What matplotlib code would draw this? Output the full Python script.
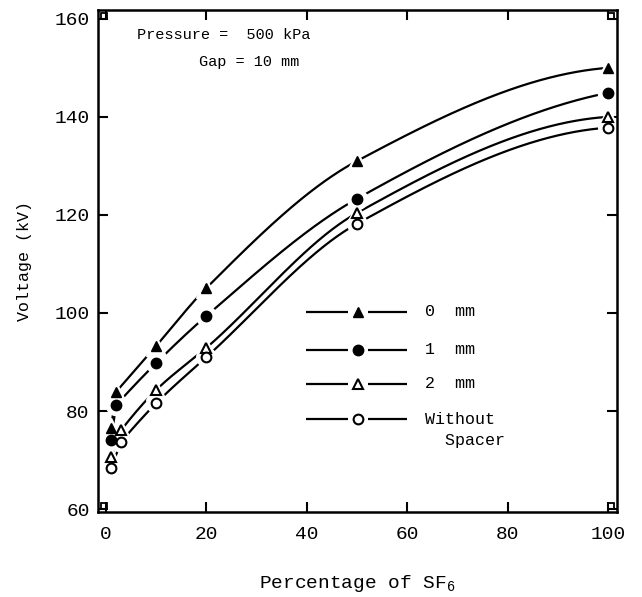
import numpy as np
import matplotlib
matplotlib.use("Agg")
import matplotlib.pyplot as plt

plt.rcParams['font.family'] = ['Liberation Mono', 'DejaVu Sans']
plt.rcParams['mathtext.default'] = 'regular'

# ---- data ----
x_filled = [1, 2, 10, 20, 50, 100]
x_open = [1, 3, 10, 20, 50, 100]
v_0mm = [76.5, 83.9, 93.3, 105.1, 131.0, 150.0]
v_1mm = [74.1, 81.2, 89.8, 99.4, 123.3, 144.9]
v_2mm = [70.6, 76.1, 84.3, 92.9, 120.4, 140.0]
v_none = [68.4, 73.7, 81.6, 91.0, 118.2, 137.8]
labels = ["0  mm", "1  mm", "2  mm", "Without"]
x_ticks = [0, 20, 40, 60, 80, 100]
y_ticks = [60, 80, 100, 120, 140, 160]


def pchip(x, y, xs):
    x = np.asarray(x, float); y = np.asarray(y, float)
    h = np.diff(x); d = np.diff(y) / h
    n = len(x); m = np.zeros(n)
    for k in range(1, n - 1):
        if d[k - 1] * d[k] > 0:
            w1 = 2 * h[k] + h[k - 1]; w2 = h[k] + 2 * h[k - 1]
            m[k] = (w1 + w2) / (w1 / d[k - 1] + w2 / d[k])
    m[0] = ((2 * h[0] + h[1]) * d[0] - h[0] * d[1]) / (h[0] + h[1])
    if np.sign(m[0]) != np.sign(d[0]):
        m[0] = 0
    m[-1] = ((2 * h[-1] + h[-2]) * d[-1] - h[-1] * d[-2]) / (h[-1] + h[-2])
    if np.sign(m[-1]) != np.sign(d[-1]):
        m[-1] = 0
    ys = np.empty_like(xs)
    for i, xv in enumerate(xs):
        k = min(max(np.searchsorted(x, xv) - 1, 0), n - 2)
        t = (xv - x[k]) / h[k]
        h00 = 2 * t**3 - 3 * t**2 + 1; h10 = t**3 - 2 * t**2 + t
        h01 = -2 * t**3 + 3 * t**2; h11 = t**3 - t**2
        ys[i] = h00 * y[k] + h10 * h[k] * m[k] + h01 * y[k + 1] + h11 * h[k] * m[k + 1]
    return ys


fig = plt.figure(figsize=(6.42, 5.97), dpi=100)
L, R, T, B = 98, 617, 10, 512
W, H = 642, 597
ax = fig.add_axes([L / W, (H - B) / H, (R - L) / W, (B - T) / H])
ax.set_xlim(-1.6, 101.8)
ax.set_ylim(59.4, 161.8)

series = [
    (x_filled, v_0mm, dict(marker='^', mfc='black', mec='black', ms=7.5)),
    (x_filled, v_1mm, dict(marker='o', mfc='black', mec='black', ms=7.5)),
    (x_open, v_2mm, dict(marker='^', mfc='white', mec='black', ms=7, mew=1.5)),
    (x_open, v_none, dict(marker='o', mfc='white', mec='black', ms=7, mew=1.5)),
]

for xs, ys, st in series:
    # short straight link between the two lowest points
    ax.plot(xs[:2], ys[:2], color='black', lw=1.6, zorder=2,
            solid_capstyle='butt')
    xx = np.linspace(xs[1], xs[-1], 600)
    ax.plot(xx, pchip(xs[1:], ys[1:], xx), color='black', lw=1.6, zorder=2,
            solid_capstyle='butt')
    ax.plot(xs, ys, ls='none', marker=st['marker'], ms=st['ms'] + 7,
            mfc='white', mec='white', zorder=3)
    ax.plot(xs, ys, ls='none', zorder=4, **st)

# manual legend (axes fraction)
def fx(px):
    return (px - L) / (R - L)

def fy(py):
    return (B - py) / (B - T)

rows_y = [312, 350, 384, 419]
for (xs, ys, st), lab, ry in zip(series, labels, rows_y):
    ax.plot([fx(306), fx(348)], [fy(ry), fy(ry)], color='black', lw=1.6,
            transform=ax.transAxes, solid_capstyle='butt', zorder=5)
    ax.plot([fx(368), fx(407)], [fy(ry), fy(ry)], color='black', lw=1.6,
            transform=ax.transAxes, solid_capstyle='butt', zorder=5)
    ax.plot([fx(358)], [fy(ry)], ls='none', transform=ax.transAxes,
            zorder=6, **st)
    ax.text(fx(425), fy(ry), lab, transform=ax.transAxes, ha='left',
            va='center', fontsize=12)
ax.text(fx(425), fy(441), "  Spacer", transform=ax.transAxes, ha='left',
        va='center', fontsize=12)

ax.text(fx(137), fy(35), "Pressure =  500 kPa", transform=ax.transAxes,
        ha='left', va='center', fontsize=11)
ax.text(fx(199), fy(62), "Gap = 10 mm", transform=ax.transAxes,
        ha='left', va='center', fontsize=11)

# corner squares
for cx, cy in [(0, 0), (0, 1), (1, 0), (1, 1)]:
    ox = 0.012 if cx == 0 else -0.012
    oy = 0.011 if cy == 0 else -0.011
    ax.plot([cx + ox], [cy + oy], marker='s', ms=5, mfc='none', mec='black',
            mew=1.3, transform=ax.transAxes, clip_on=False)

ax.set_xticks(x_ticks)
ax.set_yticks(y_ticks)
ax.set_xticklabels([str(v) for v in x_ticks], fontsize=14)
ax.set_yticklabels([str(v) for v in y_ticks], fontsize=14)
ax.tick_params(axis='both', direction='in', length=7, width=1.5,
               top=True, right=True)
ax.tick_params(axis='x', pad=10)
ax.tick_params(axis='y', pad=6)
for sp in ax.spines.values():
    sp.set_linewidth(1.8)
    sp.set_zorder(10)

ax.set_xlabel("Percentage of SF$_6$", fontsize=14, labelpad=22)
ax.set_ylabel("Voltage (kV)", fontsize=12, labelpad=16)

fig.savefig("out.png", dpi=100)
